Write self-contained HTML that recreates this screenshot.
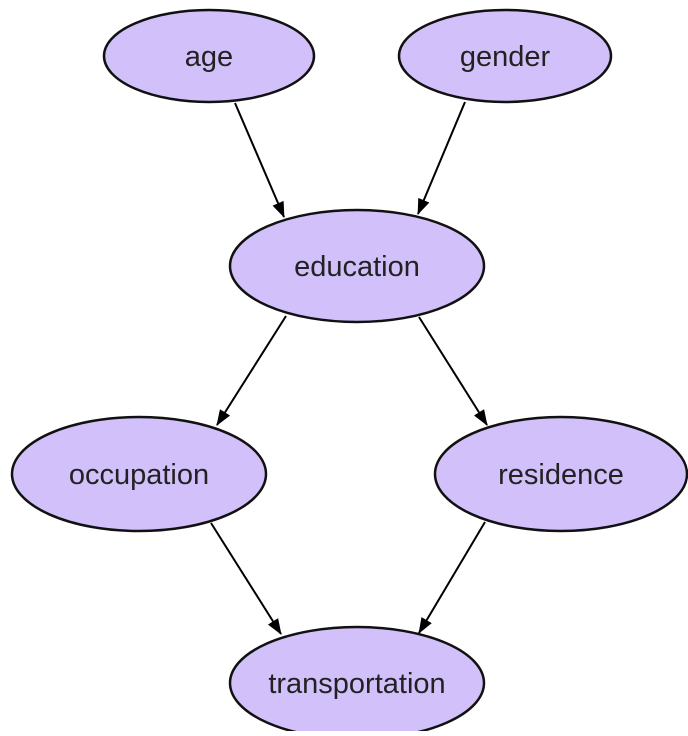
<!DOCTYPE html>
<html><head><style>html,body{margin:0;padding:0;background:#fff;}</style></head>
<body>
<svg width="688" height="731" xmlns="http://www.w3.org/2000/svg">
<defs><marker id="a" markerWidth="16" markerHeight="12" refX="15" refY="6" orient="auto" markerUnits="userSpaceOnUse"><path d="M0,0 L16,6 L0,12 z" fill="#000"/></marker></defs>
<g fill="#d2c0fb" stroke="#111" stroke-width="2.5">
<ellipse cx="209" cy="56" rx="105" ry="46"/>
<ellipse cx="505" cy="56" rx="106" ry="46"/>
<ellipse cx="357" cy="266" rx="127" ry="56"/>
<ellipse cx="139" cy="474" rx="127" ry="57"/>
<ellipse cx="561" cy="474" rx="126" ry="57"/>
<ellipse cx="357" cy="683" rx="127" ry="56"/>
</g>
<g stroke="#000" stroke-width="2" marker-end="url(#a)">
<line x1="235" y1="103" x2="284" y2="217"/>
<line x1="465" y1="102" x2="418" y2="214"/>
<line x1="286" y1="316" x2="217" y2="425"/>
<line x1="419" y1="317" x2="487" y2="425"/>
<line x1="211" y1="523" x2="281" y2="634"/>
<line x1="485" y1="522" x2="419" y2="633"/>
</g>
<g font-family="Liberation Sans, sans-serif" font-size="29" fill="#222" text-anchor="middle">
<text x="209" y="66">age</text>
<text x="505" y="66">gender</text>
<text x="357" y="276">education</text>
<text x="139" y="484">occupation</text>
<text x="561" y="484">residence</text>
<text x="357" y="693">transportation</text>
</g>
</svg>
</body></html>
